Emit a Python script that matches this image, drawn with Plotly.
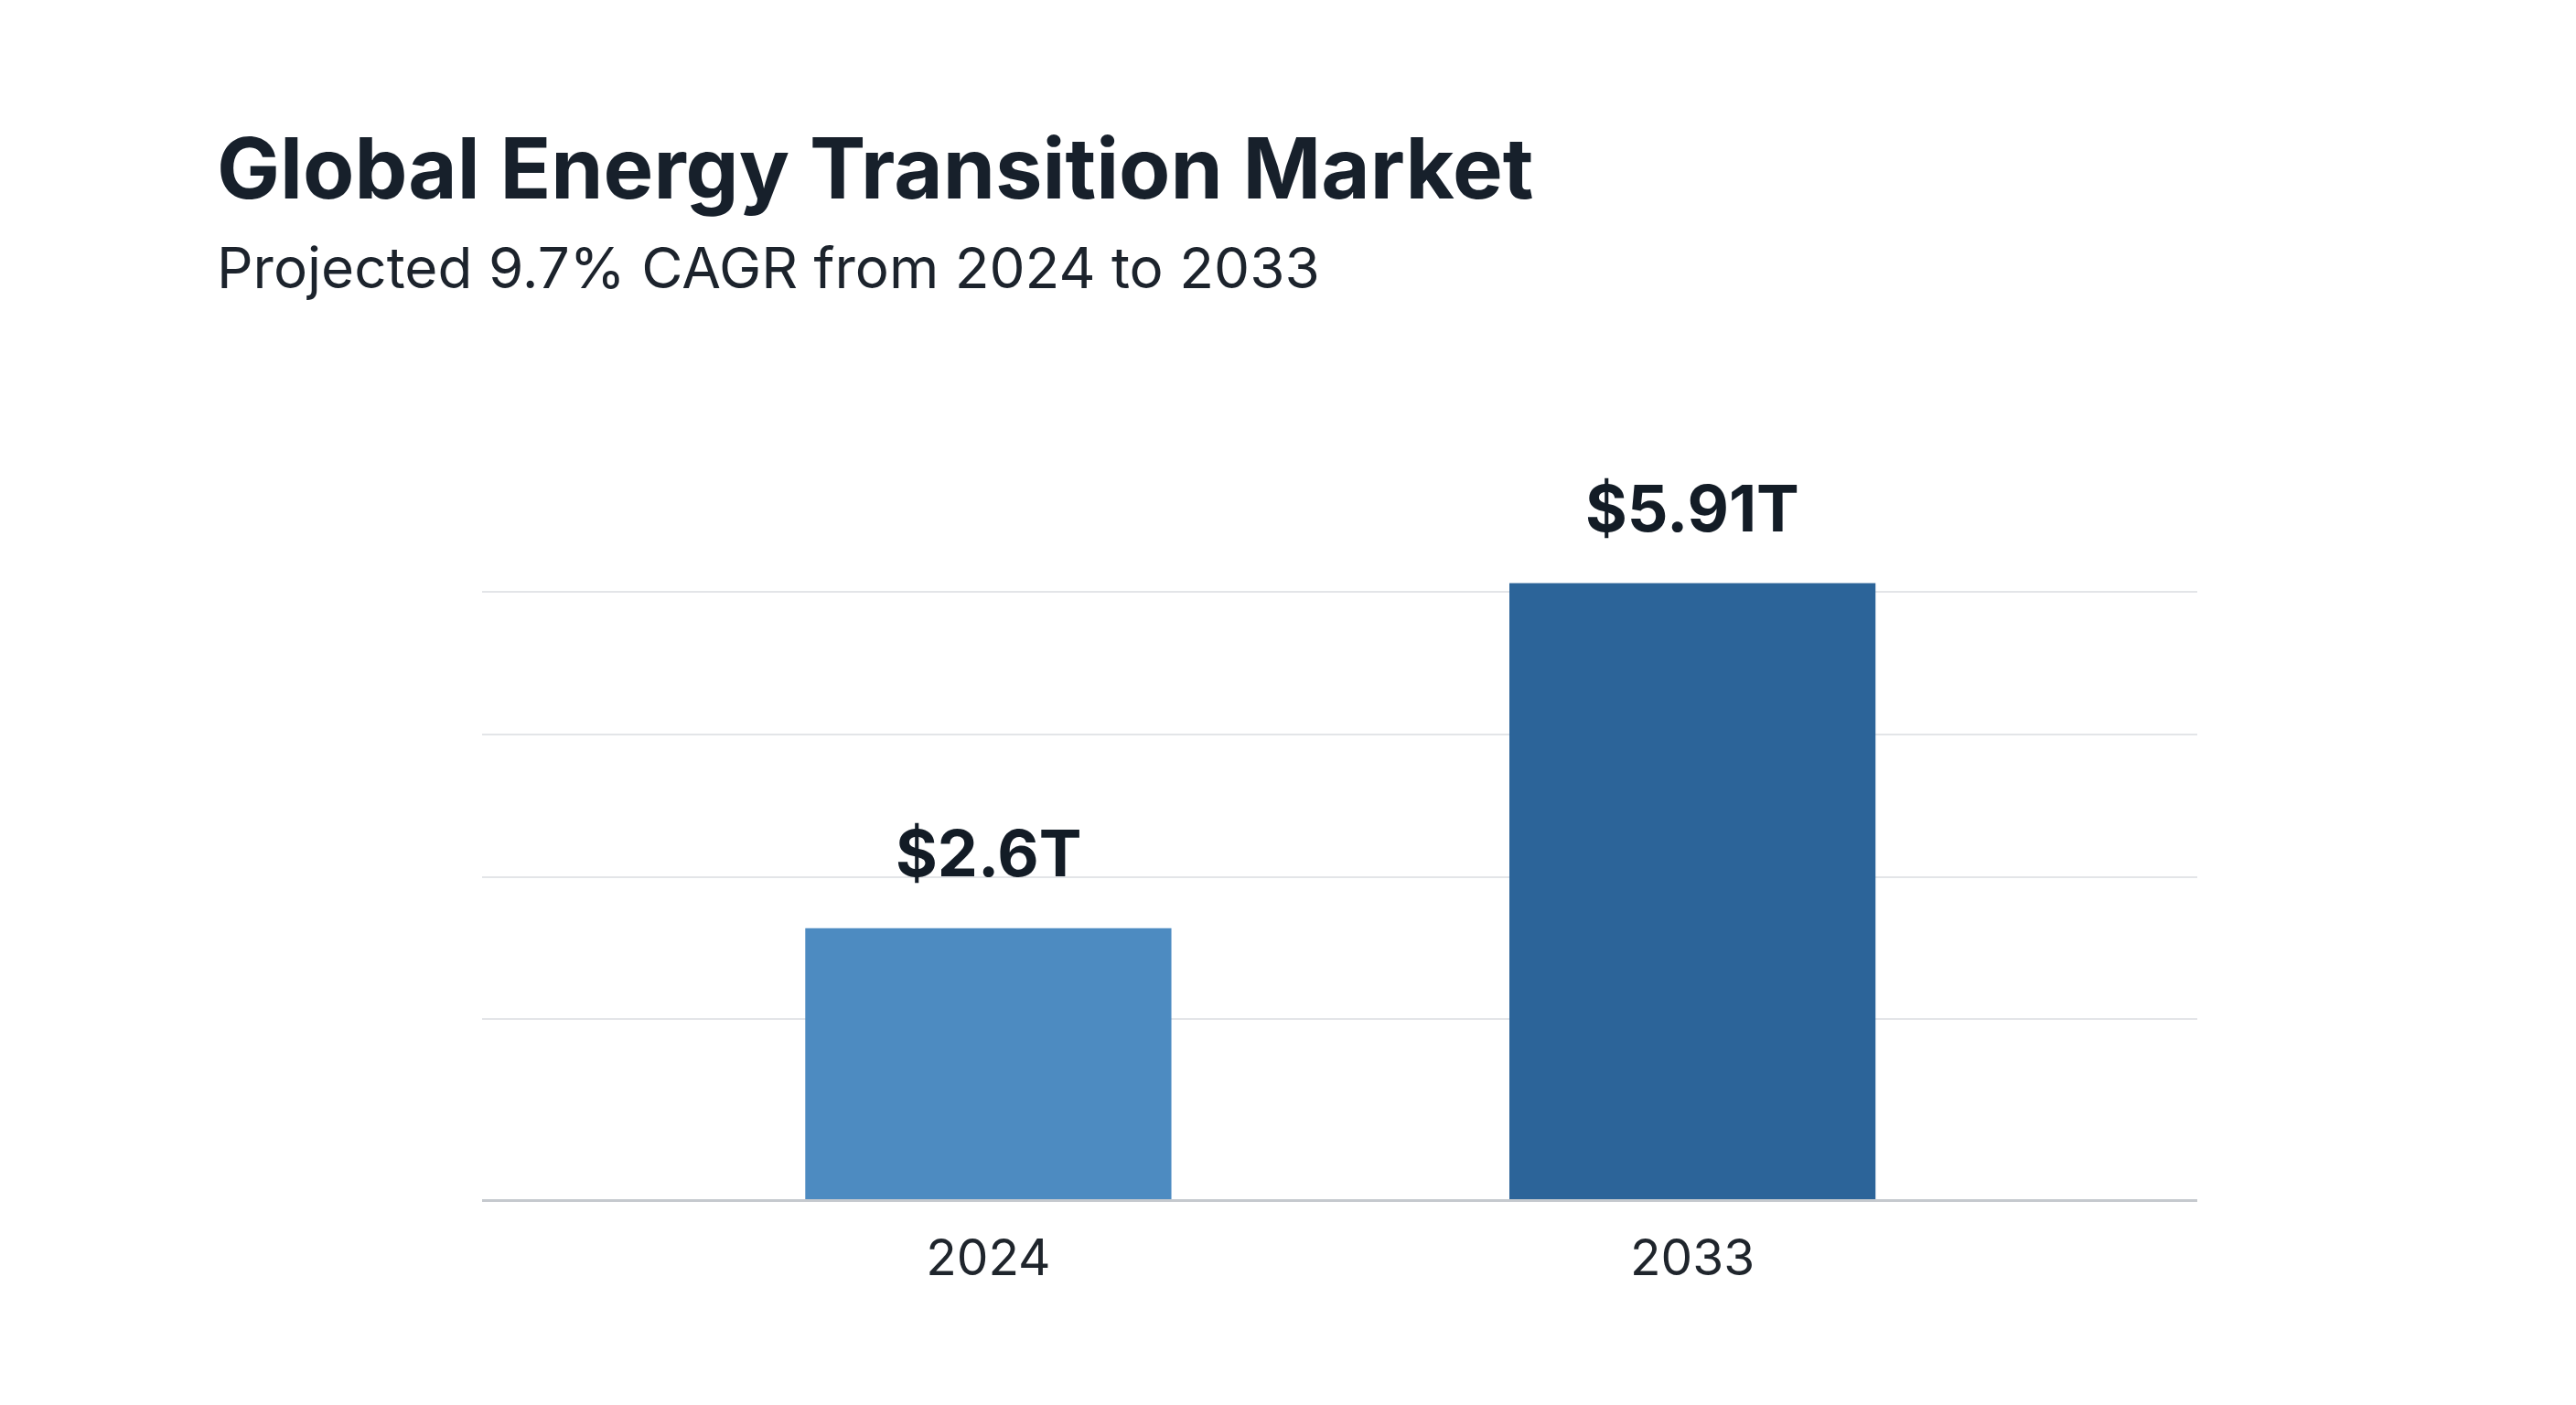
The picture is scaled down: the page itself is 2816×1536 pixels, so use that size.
"""Bar chart of the global energy transition market, 2024 vs 2033."""
import plotly.graph_objects as go

years = ['2024', '2033']
market_size = [2.6, 5.91]  # trillions of USD
value_labels = ['$2.6T', '$5.91T']
bar_colors = ['#4d8bc1', '#2c6499']
grid_values = [1.73, 3.09, 4.46, 5.83]

TITLE = 'Global Energy Transition Market'
SUBTITLE = 'Projected 9.7% CAGR from 2024 to 2033'
FONT = 'Inter, Noto Sans, sans-serif'
DARK = '#131c26'


def build_figure() -> go.Figure:
    """Return the bar chart with title, subtitle and value labels."""
    fig = go.Figure(go.Bar(x=years, y=market_size, marker_color=bar_colors,
                           marker_line_width=0, width=0.52, hoverinfo='skip'))

    # category axis: annotations are placed by category index
    for i, (value, label) in enumerate(zip(market_size, value_labels)):
        fig.add_annotation(x=i, y=value, text='<b>' + label + '</b>', showarrow=False,
                           yanchor='bottom', yshift=38,
                           font={'family': FONT, 'size': 70, 'color': DARK})

    fig.add_annotation(xref='paper', yref='paper', x=-0.156, y=1.50, xanchor='left',
                       yanchor='middle', text='<b>' + TITLE + '</b>', showarrow=False,
                       font={'family': FONT, 'size': 92, 'color': '#17202b'})
    fig.add_annotation(xref='paper', yref='paper', x=-0.156, y=1.355, xanchor='left',
                       yanchor='middle', text=SUBTITLE, showarrow=False,
                       font={'family': FONT, 'size': 62, 'color': '#1c232c'})

    fig.update_layout(width=2816, height=1536, plot_bgcolor='white', paper_bgcolor='white',
                      margin={'l': 519, 'r': 422, 't': 551, 'b': 233},
                      showlegend=False, bargap=0.48)
    fig.update_xaxes(type='category', range=[-0.719, 1.717], showgrid=False,
                     showline=True, linecolor='#c5c9ce', linewidth=3, ticks='',
                     tickfont={'family': FONT, 'size': 55, 'color': '#1f252c'},
                     ticklabelstandoff=14)
    fig.update_yaxes(range=[0, 6.6], tickvals=grid_values, showticklabels=False,
                     gridcolor='#e3e5e8', gridwidth=2, zeroline=False, showline=False)
    return fig


if __name__ == '__main__':
    figure = build_figure()
    figure.write_html('out.html')
